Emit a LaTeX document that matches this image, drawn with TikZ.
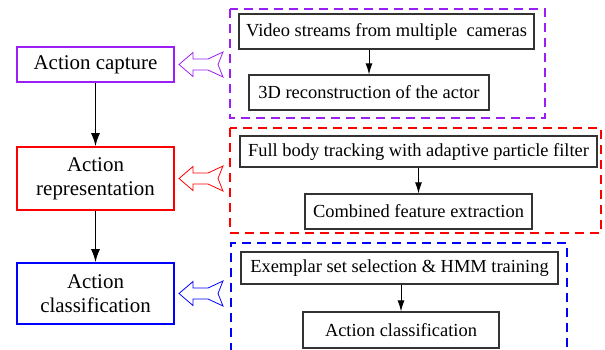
\documentclass[tikz,border=0pt]{standalone}
\usepackage{fontspec}
\setmainfont{LiberationSerif}[Extension=.ttf,UprightFont=*-Regular,BoldFont=*-Bold]
\usetikzlibrary{arrows.meta}
\definecolor{cpurple}{RGB}{155,30,245}
\definecolor{cred}{RGB}{255,0,0}
\definecolor{cblue}{RGB}{0,0,255}
\tikzset{
  mainbox/.style={draw,line width=1.6bp,minimum width=157bp,align=center,inner sep=0pt,
    font=\fontsize{21}{24}\selectfont},
  subbox/.style={draw=black!80,line width=1.2bp,inner sep=0pt,font=\fontsize{18.5}{21}\selectfont},
  groupbox/.style={line width=1.5bp,dash pattern=on 9bp off 6bp},
  mainarrow/.style={line width=1.5bp,-{Latex[length=13bp,width=9bp]}},
  subarrow/.style={line width=1bp,-{Latex[length=11bp,width=7bp]}},
  hollow/.style={line width=0.8bp},
}
\newcommand{\hollowarrow}[1]{%
  (0,0) -- (14,-12) -- (14,-5.5) -- (29,-5.5) -- (44,-12.5) -- (39,0) -- (44,12.5) -- (29,5.5) -- (14,5.5) -- (14,12) -- cycle}
\begin{document}
\begin{tikzpicture}[x=1bp,y=-1bp]
\useasboundingbox (0,0) rectangle (605,349);
% left column
\node[mainbox,draw=cpurple,minimum height=35bp] (cap) at (95.5,64.5) {Action capture};
\node[mainbox,draw=cred,minimum height=63bp] (rep) at (95.5,178.5) {Action\\representation};
\node[mainbox,draw=cblue,minimum height=61bp] (cls) at (95.5,293.5) {Action\\classification};
\draw[mainarrow] (cap) -- (rep);
\draw[mainarrow] (rep) -- (cls);
% group boxes
\draw[groupbox,cpurple] (230,9) rectangle (545,118);
\draw[groupbox,cred] (230,128) rectangle (601,233);
\draw[groupbox,cblue] (231,352) -- (231,243) -- (567,243) -- (567,352);
% sub boxes
\node[subbox,minimum width=295bp,minimum height=35bp] (vid) at (386.5,31.5) {Video streams from multiple\ \ cameras};
\node[subbox,minimum width=240bp,minimum height=35bp] (rec) at (369,92.5) {3D reconstruction of the actor};
\draw[subarrow] (rec.north |- vid.south) -- (rec.north);
\node[subbox,minimum width=357bp,minimum height=31bp] (trk) at (418.5,151.5) {Full body tracking with adaptive particle filter};
\node[subbox,minimum width=227bp,minimum height=35bp] (feat) at (418.5,211.5) {Combined feature extraction};
\draw[subarrow] (feat.north |- trk.south) -- (feat.north);
\node[subbox,minimum width=317bp,minimum height=32bp] (exm) at (399.5,268) {Exemplar set selection \& HMM training};
\node[subbox,minimum width=196bp,minimum height=36bp] (acl) at (401,330) {Action classification};
\draw[subarrow] (acl.north |- exm.south) -- (acl.north);
% hollow arrows
\begin{scope}[shift={(179,64.5)}]
  \draw[hollow,draw=cpurple,fill=white] \hollowarrow{};
\end{scope}
\begin{scope}[shift={(179,178.5)}]
  \draw[hollow,draw=cred,fill=white] \hollowarrow{};
\end{scope}
\begin{scope}[shift={(179,293.5)}]
  \draw[hollow,draw=cblue,fill=white] \hollowarrow{};
\end{scope}
\end{tikzpicture}
\end{document}
